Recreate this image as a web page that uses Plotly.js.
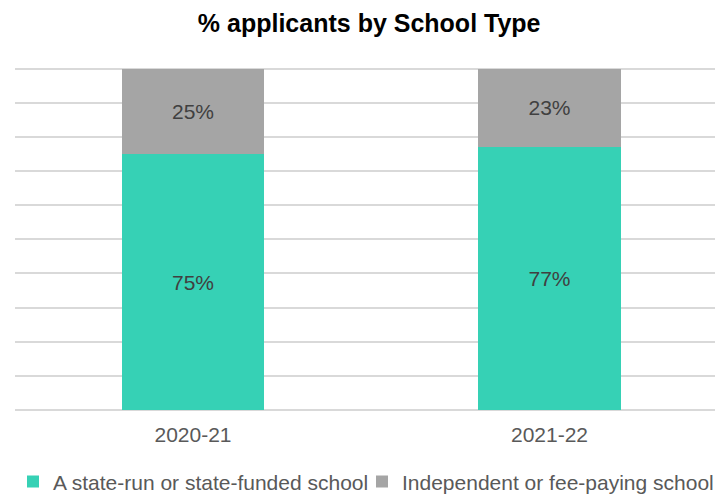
<!DOCTYPE html>
<html>
<head>
<meta charset="utf-8">
<script src="https://cdn.plot.ly/plotly-3.0.1.min.js"></script>
<style>
  html, body { margin: 0; padding: 0; background: #ffffff; }
  #chart { width: 715px; height: 494px; }
</style>
</head>
<body>
<div id="chart"></div>
<script>
const categories = ["2020-21", "2021-22"];
const stateSchool = [75, 77];
const independentSchool = [25, 23];
const seriesNames = ["A state-run or state-funded school", "Independent or fee-paying school"];
const yTicks = [0, 10, 20, 30, 40, 50, 60, 70, 80, 90, 100];

const FONT = "Liberation Sans, Arial, sans-serif";

const traces = [
  {
    type: "bar",
    name: seriesNames[0],
    x: categories,
    y: stateSchool,
    width: 0.4,
    marker: { color: "#36D1B5", line: { width: 0 } },
    texttemplate: "%{y}%",
    textposition: "inside",
    insidetextanchor: "middle",
    textangle: 0,
    textfont: { family: FONT, size: 21, color: "#404040" },
    hoverinfo: "skip",
    legend: "legend"
  },
  {
    type: "bar",
    name: seriesNames[1],
    x: categories,
    y: independentSchool,
    width: 0.4,
    marker: { color: "#A5A5A5", line: { width: 0 } },
    texttemplate: "%{y}%",
    textposition: "inside",
    insidetextanchor: "middle",
    textangle: 0,
    textfont: { family: FONT, size: 21, color: "#404040" },
    hoverinfo: "skip",
    legend: "legend2"
  }
];

const layout = {
  width: 715,
  height: 494,
  margin: { l: 15, r: 0, t: 67, b: 84, autoexpand: false },
  paper_bgcolor: "#ffffff",
  plot_bgcolor: "#ffffff",
  barmode: "stack",
  font: { family: FONT, color: "#595959" },
  title: {
    text: "<b>% applicants by School Type</b>",
    font: { family: FONT, size: 25, color: "#000000" },
    xref: "paper",
    x: 0.506,
    xanchor: "center",
    yref: "container",
    y: 0.970,
    yanchor: "top"
  },
  xaxis: {
    type: "category",
    range: [-0.4993, 1.4642],
    showgrid: false,
    showline: false,
    zeroline: false,
    ticks: "",
    ticklabelstandoff: 10,
    tickfont: { family: FONT, size: 21, color: "#595959" },
    fixedrange: true
  },
  yaxis: {
    range: [0, 100.5],
    tickvals: yTicks,
    showticklabels: false,
    showgrid: true,
    gridcolor: "#D9D9D9",
    gridwidth: 2,
    zeroline: true,
    zerolinecolor: "#D9D9D9",
    zerolinewidth: 2,
    showline: false,
    ticks: "",
    fixedrange: true
  },
  showlegend: true,
  legend: {
    orientation: "h",
    xref: "paper",
    x: (13 - 15) / 700,
    xanchor: "left",
    yref: "container",
    y: 0.066,
    yanchor: "top",
    bgcolor: "rgba(0,0,0,0)",
    borderwidth: 0,
    font: { family: FONT, size: 21, color: "#595959" }
  },
  legend2: {
    orientation: "h",
    xref: "paper",
    x: (362 - 15) / 700,
    xanchor: "left",
    yref: "container",
    y: 0.066,
    yanchor: "top",
    bgcolor: "rgba(0,0,0,0)",
    borderwidth: 0,
    font: { family: FONT, size: 21, color: "#595959" }
  }
};

Plotly.newPlot("chart", traces, layout, { displayModeBar: false, staticPlot: true });
</script>
</body>
</html>
